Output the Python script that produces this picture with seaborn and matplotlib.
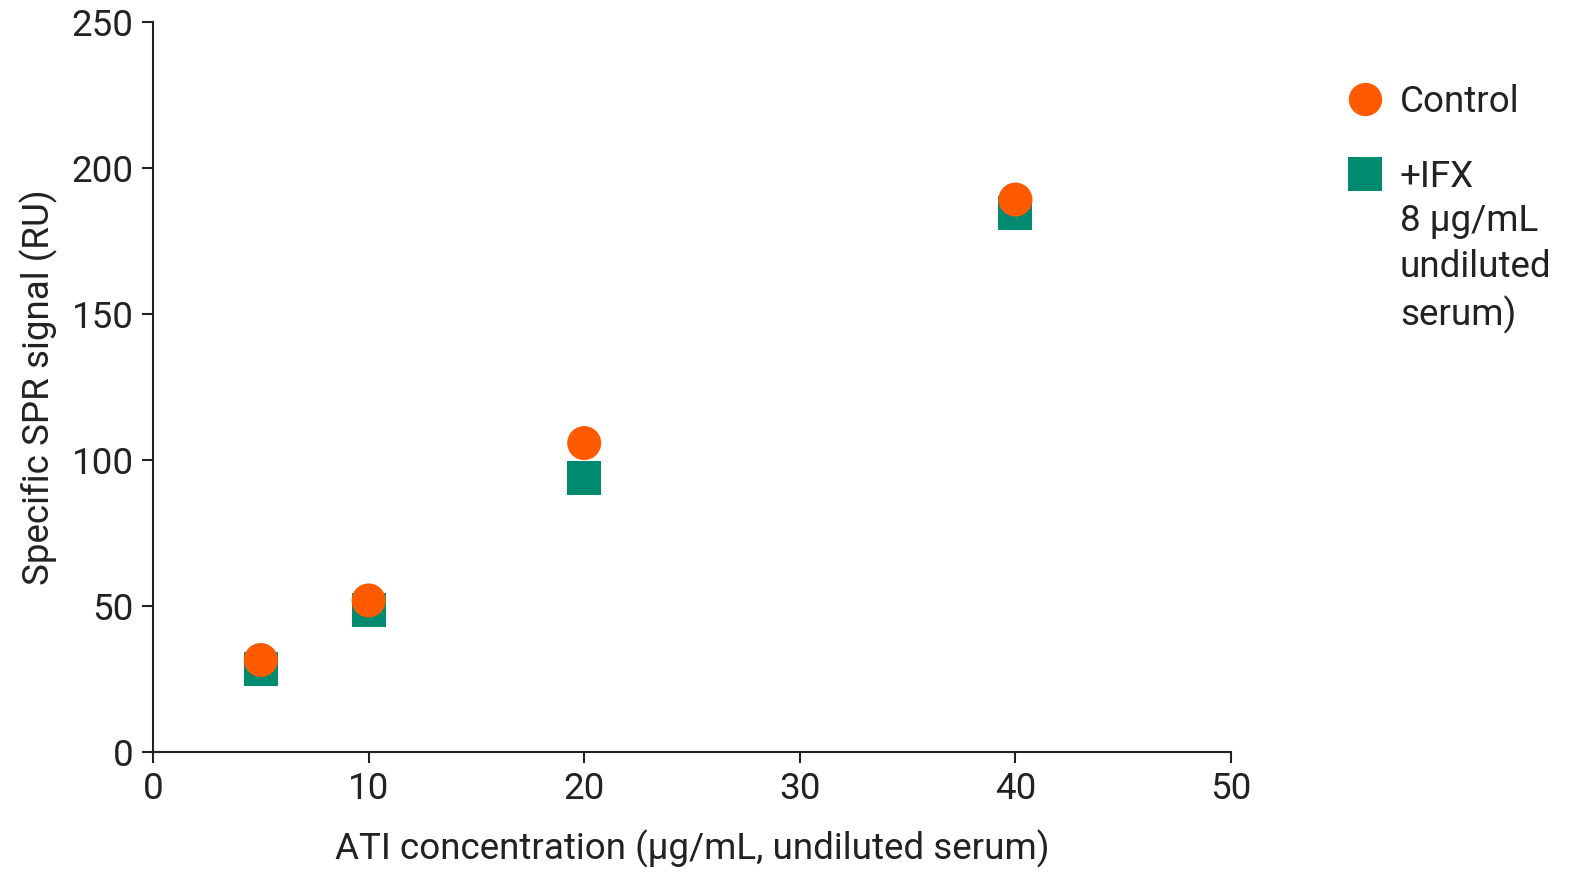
import pandas as pd
import matplotlib.pyplot as plt
import seaborn as sns

# values
conc = [5, 10, 20, 40]
control = [31.5, 51.9, 105.8, 189.2]
ifx = [28.4, 48.6, 93.8, 184.6]

lab_ctrl = "Control"
lab_ifx = "+IFX"
lab_ifx_rest = "8 µg/mL\nundiluted\nserum)"

# squares first so the circles sit on top
df = pd.concat([
    pd.DataFrame({"conc": conc, "signal": ifx, "group": lab_ifx}),
    pd.DataFrame({"conc": conc, "signal": control, "group": lab_ctrl}),
], ignore_index=True)

sns.set_style("ticks")
plt.rcParams["font.family"] = ["Roboto", "DejaVu Sans"]
fs = 26.5

fig = plt.figure(figsize=(15.89, 8.82), dpi=100)
ax = fig.add_axes([0.0963, 0.1474, 0.6784, 0.8276])

pal = {lab_ctrl: "#ff5a00", lab_ifx: "#008a70"}
marks = {lab_ctrl: "o", lab_ifx: "s"}
sns.scatterplot(data=df, x="conc", y="signal", hue="group", style="group",
                palette=pal, markers=marks, s=600, linewidth=0,
                hue_order=[lab_ctrl, lab_ifx], style_order=[lab_ctrl, lab_ifx],
                ax=ax, legend=True, zorder=3)

ax.set_xlim(0, 50)
ax.set_ylim(0, 250)
ax.set_xticks([0, 10, 20, 30, 40, 50])
ax.set_yticks([0, 50, 100, 150, 200, 250])
ax.set_xlabel("ATI concentration (µg/mL, undiluted serum)", fontsize=fs, color="#222222", labelpad=16)
ax.set_ylabel("Specific SPR signal (RU)", fontsize=fs, color="#222222", labelpad=10)
ax.tick_params(labelsize=fs, length=8, width=1.5, colors="#222222", pad=6)
for side in ["top", "right"]:
    ax.spines[side].set_visible(False)
for side in ["left", "bottom"]:
    ax.spines[side].set_linewidth(1.5)
    ax.spines[side].set_color("#222222")

h, l = ax.get_legend_handles_labels()
for hh in h:
    hh.set_markersize(24)
leg = ax.legend(h, l, loc="upper left", bbox_to_anchor=(1.09, 0.935), frameon=False,
                fontsize=fs, labelspacing=1.05, handletextpad=0.35, borderaxespad=0,
                handlelength=1.2)
for t in leg.get_texts():
    t.set_color("#222222")

# rest of the +IFX label, placed under the legend text
fig.canvas.draw()
bb = leg.get_texts()[1].get_window_extent().transformed(fig.transFigure.inverted())
fig.text(bb.x0, bb.y0 - 0.009, lab_ifx_rest, va="top", ha="left", fontsize=fs,
         color="#222222", linespacing=1.36)

fig.savefig("out.png", dpi=100)
